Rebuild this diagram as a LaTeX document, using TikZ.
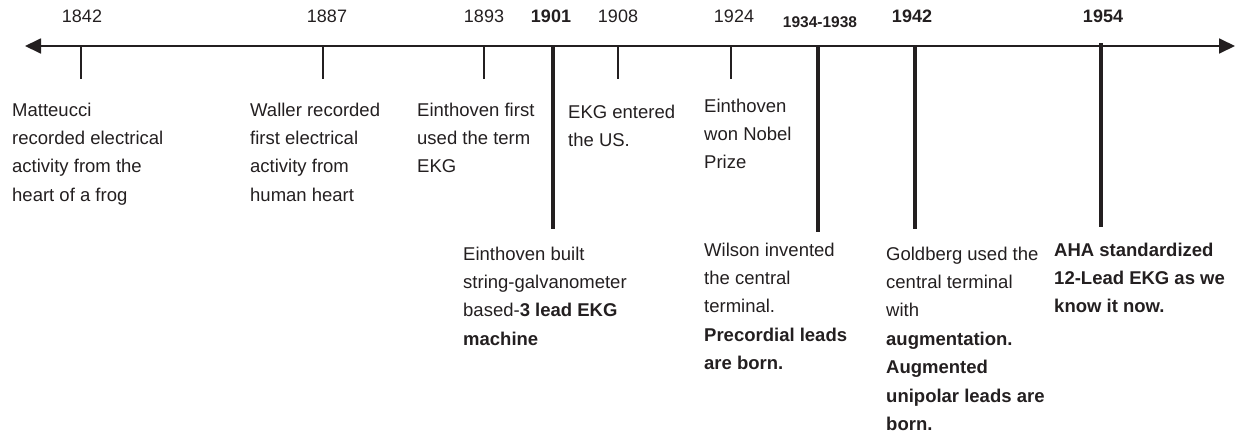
\documentclass[tikz,border=0pt]{standalone}
\usepackage{fontspec}
\setmainfont{Liberation Sans}
\usepackage{xcolor}
\usepackage{tikz}
\usetikzlibrary{arrows.meta}

\definecolor{ink}{HTML}{231F20}

\begin{document}
\begin{tikzpicture}[x=1pt,y=-1pt,
    yearlbl/.style={anchor=base,inner sep=0pt,text=ink,font=\fontsize{18}{22}\selectfont},
    eventtxt/.style={anchor=base west,inner sep=0pt,align=left,text=ink,font=\fontsize{18.5}{28.4}\selectfont},
    minortick/.style={draw=ink,line width=1.4pt},
    majortick/.style={draw=ink,line width=3.2pt},
    timeline/.style={draw=ink,line width=1.8pt,{Triangle[length=16pt,width=15pt]}-{Triangle[length=16pt,width=15pt]}}]
  \useasboundingbox (0,0) rectangle (1236,437);
  % Axis
  \coordinate (start) at (25,46);
  \coordinate (stop) at (1235,46);
  \draw[timeline] (start) -- (stop);
  % Years
  \node[yearlbl] (y1842) at (82,22) {1842};
  \node[yearlbl] (y1887) at (327,22) {1887};
  \node[yearlbl] (y1893) at (484,22) {1893};
  \node[yearlbl] (y1901) at (551,22) {\textbf{1901}};
  \node[yearlbl] (y1908) at (618,22) {1908};
  \node[yearlbl] (y1924) at (734,22) {1924};
  \node[yearlbl,font=\fontsize{15.5}{18}\selectfont] (y1934) at (820,27) {\textbf{1934-1938}};
  \node[yearlbl] (y1942) at (912,22) {\textbf{1942}};
  \node[yearlbl] (y1954) at (1103,22) {\textbf{1954}};
  % Short ticks
  \coordinate (a1842) at (81,46);   \coordinate (b1842) at (81,79);
  \coordinate (a1887) at (323,46);  \coordinate (b1887) at (323,79);
  \coordinate (a1893) at (484,46);  \coordinate (b1893) at (484,79);
  \coordinate (a1908) at (618,46);  \coordinate (b1908) at (618,79);
  \coordinate (a1924) at (731,46);  \coordinate (b1924) at (731,79);
  \draw[minortick] (a1842) -- (b1842);
  \draw[minortick] (a1887) -- (b1887);
  \draw[minortick] (a1893) -- (b1893);
  \draw[minortick] (a1908) -- (b1908);
  \draw[minortick] (a1924) -- (b1924);
  % Long ticks
  \coordinate (a1901) at (553,45);  \coordinate (b1901) at (553,229);
  \coordinate (a1934) at (818,45);  \coordinate (b1934) at (818,232);
  \coordinate (a1942) at (915,45);  \coordinate (b1942) at (915,229);
  \coordinate (a1954) at (1101,43); \coordinate (b1954) at (1101,227);
  \draw[majortick] (a1901) -- (b1901);
  \draw[majortick] (a1934) -- (b1934);
  \draw[majortick] (a1942) -- (b1942);
  \draw[majortick] (a1954) -- (b1954);
  % Events above (anchored at the baseline of the last line)
  \node[eventtxt] (matteucci) at (12,201.2)
    {Matteucci\\recorded electrical\\activity from the\\heart of a frog};
  \node[eventtxt] (waller) at (250,201.2)
    {Waller recorded\\first electrical\\activity from\\human heart};
  \node[eventtxt] (term) at (417,172.8)
    {Einthoven first\\used the term\\EKG};
  \node[eventtxt] (us) at (568,146.4)
    {EKG entered\\the US.};
  \node[eventtxt] (nobel) at (704,168.8)
    {Einthoven\\won Nobel\\Prize};
  % Events below
  \node[eventtxt] (galvo) at (463,345.2)
    {Einthoven built\\string-galvanometer\\based-\textbf{3 lead EKG}\\\textbf{machine}};
  \node[eventtxt] (wilson) at (704,369.6)
    {Wilson invented\\the central\\terminal.\\\textbf{Precordial leads}\\\textbf{are born.}};
  \node[eventtxt] (goldberg) at (886,430.4)
    {Goldberg used the\\central terminal\\with\\\textbf{augmentation.}\\\textbf{Augmented}\\\textbf{unipolar leads are}\\\textbf{born.}};
  \node[eventtxt] (aha) at (1054,312.8)
    {\textbf{AHA standardized}\\\textbf{12-Lead EKG as we}\\\textbf{know it now.}};
\end{tikzpicture}
\end{document}
